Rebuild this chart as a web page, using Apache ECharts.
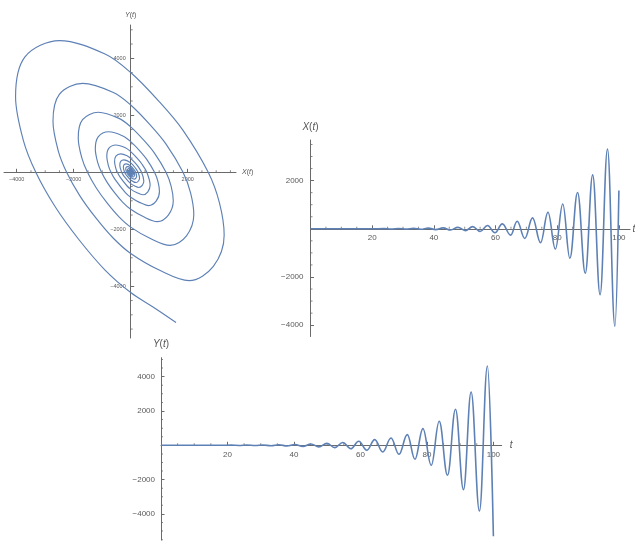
<!DOCTYPE html>
<html>
<head>
<meta charset="utf-8">
<script src="https://cdn.jsdelivr.net/npm/echarts@6/dist/echarts.min.js"></script>
<style>html,body{margin:0;padding:0;background:#fff}#c{width:635px;height:542px}</style>
</head>
<body>
<div id="c"></div>
<script>
// ---- data ----
// X(t): times and values of the extrema (plus flat start / end point)
const xT = [0, 10, 20, 23.8, 26.2, 28.6, 31.0, 33.4, 35.8, 38.2, 40.6, 43.0, 45.4, 47.8, 50.2, 52.6, 55.0, 57.4,
            59.8, 62.2, 64.9, 67.0, 69.5, 72.0, 74.6, 77.0, 79.4, 81.8, 84.1, 86.6, 89.1, 91.5, 93.9, 96.3, 98.7, 100];
const xV = [0, 0, 0, 8, -10, 12, -15, 18, -22, 27, -33, 40, -50, 60, -74, 90, -110, 135,
            -165, 206, -264, 313, -400, 454, -577, 685, -841, 1031, -1225, 1509, -1843, 2239, -2738, 3311, -4041, 1590];
// Y(t)
const yT = [0, 10, 18, 21.1, 23.5, 25.9, 28.3, 30.7, 33.1, 35.5, 37.9, 40.3, 42.7, 45.1, 47.5, 49.9, 52.3, 54.7, 57.1, 59.5, 61.9, 64.3,
            66.7, 69.2, 71.6, 74.1, 76.4, 78.8, 81.3, 83.7, 86.2, 88.6, 91.0, 93.3, 95.8, 98.2, 100];
const yV = [0, 0, 0, 8, -10, 13, -16, 20, -26, 32, -40, 50, -60, 75, -90, 110, -135, 165, -200, 240, -290, 330,
            -390, 426, -525, 624, -816, 974, -1166, 1399, -1749, 2099, -2583, 3108, -3831, 4624, -5300];
// parametric curve (X(t), Y(t)), read from the spiral, from t = 100 inward
const spiral = [
 [1590,-5270],[770,-4720],[0,-4220],[-900,-3430],[-1821,-2358],[-2650,-1210],[-3330,0],[-3770,1130],[-4040,2650],[-3710,4050],[-2500,4620],[-900,4150],[0,3500],[1000,2480],[1830,1480],[2720,0],[3112,-1067],[3280,-2200],[2900,-3300],[2050,-3800],[1000,-3430],
 [0,-2849],[-608,-2315],[-1229,-1592],[-1789,-817],[-2248,0],[-2545,763],[-2727,1789],[-2504,2734],[-1688,3119],[-608,2801],[0,2363],[675,1674],[1235,999],[1836,0],[2101,-720],[2214,-1485],[1958,-2228],[1384,-2565],[675,-2315],
 [0,-1923],[-410,-1563],[-830,-1074],[-1207,-551],[-1517,0],[-1718,515],[-1841,1207],[-1690,1845],[-1139,2105],[-410,1891],[0,1595],[456,1130],[834,674],[1239,0],[1418,-486],[1494,-1002],[1321,-1503],[934,-1731],[456,-1563],
 [0,-1298],[-277,-1055],[-560,-725],[-815,-372],[-1024,0],[-1159,347],[-1242,815],[-1141,1245],[-769,1421],[-277,1276],[0,1076],[308,763],[563,455],[836,0],[957,-328],[1009,-677],[892,-1015],[630,-1168],[308,-1055],
 [0,-876],[-187,-712],[-550,-251],[-691,0],[-783,235],[-839,550],[-770,841],[-519,959],[-187,862],[0,727],[208,515],[380,307],[565,0],[681,-457],[602,-685],[426,-789],[208,-712],
 [0,-591],[-126,-481],[-371,-170],[-467,0],[-528,158],[-566,371],[-520,567],[-350,647],[-126,581],[0,490],[140,347],[256,207],[381,0],[460,-308],[406,-462],[287,-532],[140,-481],
 [0,-399],[-251,-114],[-315,0],[-382,251],[-351,383],[-237,437],[0,331],[173,140],[257,0],[310,-208],[194,-359],
 [0,-269],[-169,-77],[-212,0],[-258,169],[-237,258],[-160,295],[0,223],[117,94],[174,0],[209,-140],[131,-242],
 [0,-182],[-114,-52],[-144,0],[-174,114],[-160,175],[-108,199],[0,151],[79,64],[117,0],[141,-95],[88,-164],
 [0,-123],[-97,0],[-118,77],[-73,134],[0,102],[79,0],[95,-64],[60,-111],
 [0,-83],[-65,0],[-79,52],[-49,91],[0,69],[53,0],[64,-43],[40,-74],
 [0,-56],[-44,0],[-54,35],[-33,61],[0,47],[36,0],[44,-29],[27,-51],
 [0,-38],[-30,0],[-36,24],[-22,41],[0,32],[24,0],[30,-20],[18,-34],
 [0,0]
];
// tick positions / labels
const spiralXMajor = [-4000, -2000, 2000];
const spiralXMinor = [-3500,-3000,-2500,-1500,-1000,-500,500,1000,1500,2500,3000,3500];
const spiralYMajor = [-4000, -2000, 2000, 4000];
const spiralYMinor = [-5500,-5000,-4500,-3500,-3000,-2500,-1500,-1000,-500,500,1000,1500,2500,3000,3500,4500,5000];
const tMajor = [20, 40, 60, 80, 100];
const tMinor = [5,10,15,25,30,35,45,50,55,65,70,75,85,90,95];
const xMajor = [-4000, -2000, 2000];
const xMinor = [-3500,-3000,-2500,-1500,-1000,-500,500,1000,1500,2500,3000,3500];
const yMajor = [-4000, -2000, 2000, 4000];
const yMinor = [-5500,-5000,-4500,-3500,-3000,-2500,-1500,-1000,-500,500,1000,1500,2500,3000,3500,4500,5000];

// axis ranges
const sxMin = -4446, sxMax = 3695, syMin = -5814, syMax = 5168;
const xtMax = 103.6, xvMin = -4470, xvMax = 3685;
const ytMax = 102.5, yvMin = -5519, yvMax = 5105;

// ---- styling / layout ----
const BLUE = '#5E81B5';
const AX = '#6a6a6a';
const LB = '#5a5a5a';
const FONT = 'Liberation Sans, Arial, sans-serif';
const fmt = v => (v < 0 ? '\u2212' + (-v) : String(v));

const GA = { left: 4, top: 25, width: 232, height: 313 };
const GB = { left: 310.5, top: 140, width: 319.5, height: 196.5 };
const GC = { left: 161, top: 357.7, width: 340.7, height: 182.3 };

function nameStyle(size) {
  return {
    color: '#555', fontSize: size, fontFamily: FONT,
    rich: { i: { fontStyle: 'italic', fontSize: size, fontFamily: FONT, color: '#555' } }
  };
}
function mainAxis(grid, min, max, major, showLabel, labelSize, margin, name, nameGap, nameSize) {
  return {
    gridIndex: grid, type: 'value', min: min, max: max,
    axisLine: { show: true, onZero: true, lineStyle: { color: AX, width: 1 } },
    axisTick: { show: true, inside: true, length: 3.5, customValues: major, lineStyle: { color: AX, width: 1 } },
    axisLabel: { show: showLabel, customValues: major, formatter: fmt, fontSize: labelSize, color: LB, fontFamily: FONT, margin: margin },
    splitLine: { show: false }, minorTick: { show: false }, minorSplitLine: { show: false },
    name: name, nameLocation: 'end', nameGap: nameGap, nameTextStyle: nameStyle(nameSize), nameMoveOverlap: false
  };
}
// axis that only carries tick labels, on the edge of a helper grid that lies on the zero line
function labelAxis(grid, min, max, major, labelSize, margin) {
  return {
    gridIndex: grid, type: 'value', min: min, max: max,
    axisLine: { show: false, onZero: false }, axisTick: { show: false },
    axisLabel: { show: true, customValues: major, formatter: fmt, fontSize: labelSize, color: LB, fontFamily: FONT, margin: margin },
    splitLine: { show: false }
  };
}
function hiddenAxis(grid) {
  return { gridIndex: grid, type: 'value', min: 0, max: 1, show: false, axisLine: { onZero: false } };
}
function minorX(g, vals) {
  return { type: 'scatter', xAxisIndex: g, yAxisIndex: g, data: vals.map(v => [v, 0]),
    symbol: 'rect', symbolSize: [1, 2], symbolOffset: [0, -1], itemStyle: { color: AX },
    silent: true, clip: false, emphasis: { disabled: true }, z: 1 };
}
function minorY(g, x0, vals) {
  return { type: 'scatter', xAxisIndex: g, yAxisIndex: g, data: vals.map(v => [x0, v]),
    symbol: 'rect', symbolSize: [2, 1], symbolOffset: [1, 0], itemStyle: { color: AX },
    silent: true, clip: false, emphasis: { disabled: true }, z: 1 };
}
const g = (o, extra) => Object.assign({ containLabel: false, outerBoundsMode: 'none' }, o, extra || {});

// helper grids whose edges sit on the zero lines
const zeroA_y = GA.top + GA.height * syMax / (syMax - syMin);
const zeroA_x = GA.left + GA.width * (-sxMin) / (sxMax - sxMin);
const zeroB_y = GB.top + GB.height * xvMax / (xvMax - xvMin);
const zeroC_y = GC.top + GC.height * yvMax / (yvMax - yvMin);

const chart = echarts.init(document.getElementById('c'), null, { renderer: 'canvas' });
chart.setOption({
  backgroundColor: '#ffffff',
  animation: false,
  grid: [
    g(GA), g(GB), g(GC),
    g({ left: GA.left, top: GA.top, width: GA.width, height: zeroA_y - GA.top }),
    g({ left: zeroA_x, top: GA.top, width: GA.left + GA.width - zeroA_x, height: GA.height }),
    g({ left: GB.left, top: GB.top, width: GB.width, height: zeroB_y - GB.top }),
    g({ left: GC.left, top: GC.top, width: GC.width, height: zeroC_y - GC.top })
  ],
  xAxis: [
    mainAxis(0, sxMin, sxMax, spiralXMajor, false, 5.5, 4, '{i|X}({i|t})', 6, 7),
    mainAxis(1, 0, xtMax, tMajor, false, 8, 5, '{i|t}', 2.5, 10),
    mainAxis(2, 0, ytMax, tMajor, false, 8, 5, '{i|t}', 8, 10),
    labelAxis(3, sxMin, sxMax, spiralXMajor, 5.5, 4),
    hiddenAxis(4),
    labelAxis(5, 0, xtMax, tMajor, 8, 5),
    labelAxis(6, 0, ytMax, tMajor, 8, 5)
  ],
  yAxis: [
    mainAxis(0, syMin, syMax, spiralYMajor, false, 5.5, 4, '{i|Y}({i|t})', 6, 7),
    mainAxis(1, xvMin, xvMax, xMajor, true, 8, 7, '{i|X}({i|t})', 8, 10),
    mainAxis(2, yvMin, yvMax, yMajor, true, 8, 6, '{i|Y}({i|t})', 8, 10),
    hiddenAxis(3),
    labelAxis(4, syMin, syMax, spiralYMajor, 5.5, 5),
    hiddenAxis(5),
    hiddenAxis(6)
  ],
  series: [
    minorX(0, spiralXMinor), minorY(0, 0, spiralYMinor),
    minorX(1, tMinor), minorY(1, 0, xMinor),
    minorX(2, tMinor), minorY(2, 0, yMinor),
    { type: 'line', xAxisIndex: 0, yAxisIndex: 0, data: spiral, showSymbol: false, smooth: 0.34,
      lineStyle: { color: BLUE, width: 1.15 }, silent: true, z: 3 },
    { type: 'line', xAxisIndex: 1, yAxisIndex: 1, data: xT.map((t, i) => [t, xV[i]]), showSymbol: false,
      smooth: 0.4, smoothMonotone: 'x', lineStyle: { color: BLUE, width: 1.6 }, silent: true, z: 3 },
    { type: 'line', xAxisIndex: 2, yAxisIndex: 2, data: yT.map((t, i) => [t, yV[i]]), showSymbol: false,
      smooth: 0.4, smoothMonotone: 'x', lineStyle: { color: BLUE, width: 1.6 }, silent: true, z: 3 }
  ]
});
</script>
</body>
</html>
